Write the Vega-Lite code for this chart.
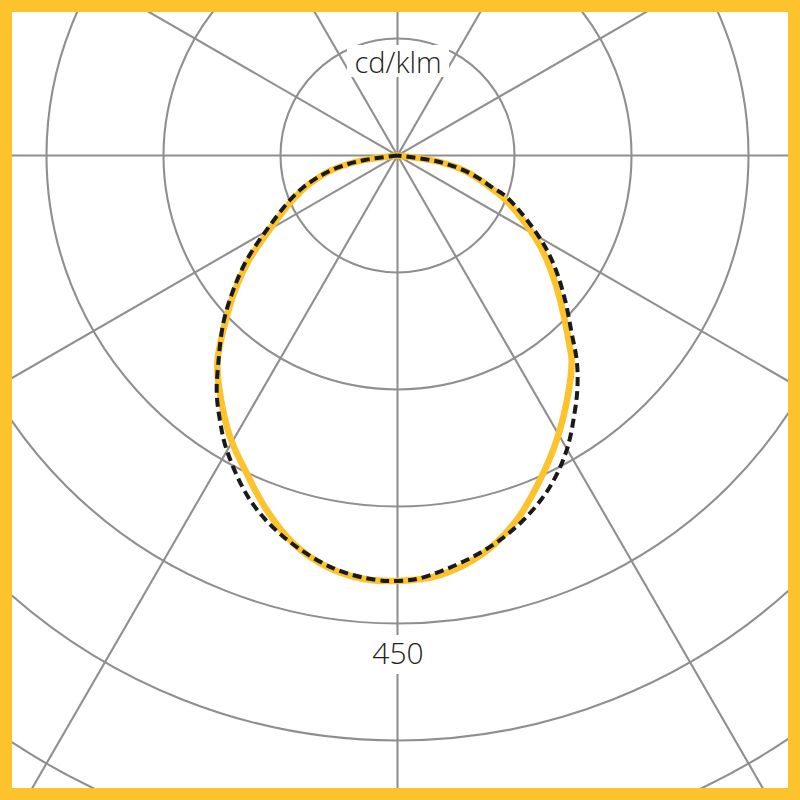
{
  "$schema": "https://vega.github.io/schema/vega-lite/v6.json",
  "width": 776,
  "height": 776,
  "autosize": "none",
  "padding": 12,
  "background": "#FDC32D",
  "config": {"view": {"stroke": null, "fill": "white"}},
  "datasets": {
    "rings": [
      {"r": 112.5}, {"r": 225}, {"r": 337.5}, {"r": 450}, {"r": 562.5}, {"r": 675}
    ],
    "rays": [
      {"x": 0, "y": -1000, "x2": 0, "y2": 1000},
      {"x": -1000, "y": 0, "x2": 1000, "y2": 0},
      {"x": -500, "y": -866, "x2": 500, "y2": 866},
      {"x": 500, "y": -866, "x2": -500, "y2": 866},
      {"x": -866, "y": -500, "x2": 866, "y2": 500},
      {"x": 866, "y": -500, "x2": -866, "y2": 500}
    ],
    "labels": [
      {"text": "cd/klm", "x": 0.5, "y": 79.0, "x1": -48.6, "x2": 49.6, "y1": 75.5, "y2": 106.3, "size": 29},
      {"text": "450", "x": 0.5, "y": -488.5, "x1": -32.2, "x2": 31.3, "y1": -498.6, "y2": -461.1, "size": 30}
    ],
    "c0": [
      {"i": 1, "x": 0, "y": 0},
      {"i": 2, "x": -7.7, "y": -0.9},
      {"i": 3, "x": -32.4, "y": -4.5},
      {"i": 4, "x": -48.1, "y": -8.4},
      {"i": 5, "x": -64.4, "y": -14.5},
      {"i": 6, "x": -77.5, "y": -22.2},
      {"i": 7, "x": -89.5, "y": -31.2},
      {"i": 8, "x": -101.9, "y": -43.8},
      {"i": 9, "x": -124.0, "y": -72.6},
      {"i": 10, "x": -143.3, "y": -101.4},
      {"i": 11, "x": -156.3, "y": -129.8},
      {"i": 12, "x": -165.9, "y": -161.5},
      {"i": 13, "x": -173.1, "y": -198.1},
      {"i": 14, "x": -170.7, "y": -228.7},
      {"i": 15, "x": -161.1, "y": -270.4},
      {"i": 16, "x": -145.0, "y": -305.6},
      {"i": 17, "x": -125.8, "y": -340.9},
      {"i": 18, "x": -100.2, "y": -372.9},
      {"i": 19, "x": -68.1, "y": -395.4},
      {"i": 20, "x": -36.1, "y": -406.5},
      {"i": 21, "x": 0, "y": -409.1},
      {"i": 22, "x": 40.9, "y": -403.4},
      {"i": 23, "x": 82.5, "y": -382.5},
      {"i": 24, "x": 114.6, "y": -350.5},
      {"i": 25, "x": 137.0, "y": -312.0},
      {"i": 26, "x": 153.1, "y": -273.6},
      {"i": 27, "x": 164.2, "y": -228.7},
      {"i": 28, "x": 167.5, "y": -196.6},
      {"i": 29, "x": 165.4, "y": -182.7},
      {"i": 30, "x": 160.1, "y": -154.8},
      {"i": 31, "x": 151.9, "y": -123.1},
      {"i": 32, "x": 139.4, "y": -91.3},
      {"i": 33, "x": 123.1, "y": -65.4},
      {"i": 34, "x": 103.8, "y": -42.4},
      {"i": 35, "x": 90.5, "y": -31.6},
      {"i": 36, "x": 78.0, "y": -22.6},
      {"i": 37, "x": 64.4, "y": -14.5},
      {"i": 38, "x": 48.1, "y": -8.4},
      {"i": 39, "x": 32.4, "y": -4.5},
      {"i": 40, "x": 7.7, "y": -0.9},
      {"i": 41, "x": 0, "y": 0}
    ],
    "c90": [
      {"i": 1, "x": 0, "y": 0},
      {"i": 2, "x": -7.7, "y": -0.9},
      {"i": 3, "x": -32.4, "y": -4.5},
      {"i": 4, "x": -48.1, "y": -8.4},
      {"i": 5, "x": -64.4, "y": -14.5},
      {"i": 6, "x": -78.3, "y": -22.0},
      {"i": 7, "x": -90.8, "y": -30.8},
      {"i": 8, "x": -103.4, "y": -42.8},
      {"i": 9, "x": -125.8, "y": -71.6},
      {"i": 10, "x": -145.0, "y": -100.5},
      {"i": 11, "x": -157.9, "y": -129.3},
      {"i": 12, "x": -167.5, "y": -161.3},
      {"i": 13, "x": -172.3, "y": -199.8},
      {"i": 14, "x": -173.8, "y": -228.7},
      {"i": 15, "x": -170.7, "y": -254.8},
      {"i": 16, "x": -164.2, "y": -283.2},
      {"i": 17, "x": -141.8, "y": -331.2},
      {"i": 18, "x": -109.8, "y": -366.5},
      {"i": 19, "x": -61.7, "y": -396.9},
      {"i": 20, "x": -20.0, "y": -408.2},
      {"i": 21, "x": 0, "y": -409.1},
      {"i": 22, "x": 21.6, "y": -406.5},
      {"i": 23, "x": 66.5, "y": -388.9},
      {"i": 24, "x": 98.6, "y": -369.7},
      {"i": 25, "x": 124.2, "y": -347.3},
      {"i": 26, "x": 146.6, "y": -318.5},
      {"i": 27, "x": 162.7, "y": -283.2},
      {"i": 28, "x": 170.7, "y": -244.7},
      {"i": 29, "x": 173.1, "y": -221.2},
      {"i": 30, "x": 172.3, "y": -196.6},
      {"i": 31, "x": 167.5, "y": -171.0},
      {"i": 32, "x": 161.1, "y": -138.9},
      {"i": 33, "x": 149.8, "y": -103.7},
      {"i": 34, "x": 133.8, "y": -74.8},
      {"i": 35, "x": 105.0, "y": -40.0},
      {"i": 36, "x": 91.5, "y": -31.0},
      {"i": 37, "x": 78.3, "y": -22.0},
      {"i": 38, "x": 64.4, "y": -14.5},
      {"i": 39, "x": 48.1, "y": -8.4},
      {"i": 40, "x": 32.4, "y": -4.5},
      {"i": 41, "x": 7.7, "y": -0.9},
      {"i": 42, "x": 0, "y": 0}
    ]
  },
  "layer": [
    {
      "data": {"name": "rings"},
      "mark": {"type": "arc", "theta": 0, "theta2": 6.2832, "fill": null, "stroke": "#8f8f8f", "strokeWidth": 2.1, "clip": true},
      "encoding": {
        "x": {"datum": 0, "type": "quantitative", "scale": {"domain": [-370.67, 375.48], "nice": false, "zero": false}, "axis": null},
        "y": {"datum": 0, "type": "quantitative", "scale": {"domain": [-608.17, 137.98], "nice": false, "zero": false}, "axis": null},
        "radius": {"field": "r", "type": "quantitative", "stack": null, "scale": {"type": "linear", "domain": [0, 675], "range": [0, 702], "zero": true, "nice": false}, "legend": null}
      }
    },
    {
      "data": {"name": "rays"},
      "mark": {"type": "rule", "stroke": "#8f8f8f", "strokeWidth": 2.1, "clip": true},
      "encoding": {
        "x": {"field": "x", "type": "quantitative", "scale": {"domain": [-370.67, 375.48], "nice": false, "zero": false}, "axis": null},
        "y": {"field": "y", "type": "quantitative", "scale": {"domain": [-608.17, 137.98], "nice": false, "zero": false}, "axis": null},
        "x2": {"field": "x2"},
        "y2": {"field": "y2"}
      }
    },
    {
      "data": {"name": "labels"},
      "mark": {"type": "rect", "fill": "white", "stroke": null},
      "encoding": {
        "x": {"field": "x1", "type": "quantitative", "axis": null},
        "x2": {"field": "x2"},
        "y": {"field": "y1", "type": "quantitative", "axis": null},
        "y2": {"field": "y2"}
      }
    },
    {
      "data": {"name": "labels"},
      "mark": {"type": "text", "font": "Open Sans", "fontWeight": 300, "color": "#231f20", "align": "center", "baseline": "alphabetic"},
      "encoding": {
        "x": {"field": "x", "type": "quantitative", "axis": null},
        "y": {"field": "y", "type": "quantitative", "axis": null},
        "text": {"field": "text"},
        "size": {"field": "size", "type": "quantitative", "scale": null, "legend": null}
      }
    },
    {
      "data": {"name": "c0"},
      "mark": {"type": "line", "stroke": "#FDC32D", "strokeWidth": 6.5, "interpolate": "catmull-rom", "strokeCap": "round", "strokeJoin": "round"},
      "encoding": {
        "x": {"field": "x", "type": "quantitative", "axis": null},
        "y": {"field": "y", "type": "quantitative", "axis": null},
        "order": {"field": "i"}
      }
    },
    {
      "data": {"name": "c90"},
      "mark": {"type": "line", "stroke": "#1a1a1a", "strokeWidth": 4, "strokeDash": [9, 5], "interpolate": "catmull-rom"},
      "encoding": {
        "x": {"field": "x", "type": "quantitative", "axis": null},
        "y": {"field": "y", "type": "quantitative", "axis": null},
        "order": {"field": "i"}
      }
    }
  ]
}
